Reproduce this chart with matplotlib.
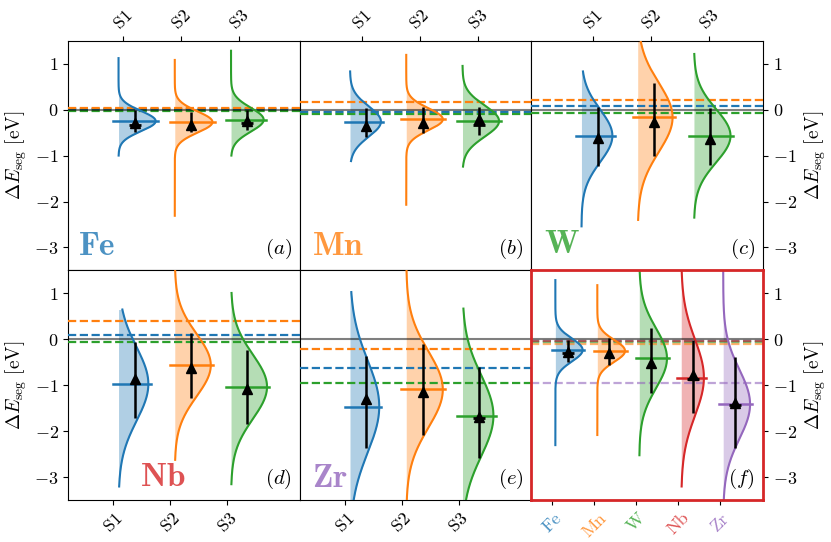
import matplotlib
matplotlib.use('Agg')
import matplotlib.pyplot as plt
import numpy as np

plt.rcParams['font.family'] = 'serif'
plt.rcParams['font.serif'] = ['cmr10']
plt.rcParams['mathtext.fontset'] = 'cm'
plt.rcParams['axes.formatter.use_mathtext'] = True
plt.rcParams['axes.unicode_minus'] = True

elements = ['Fe', 'Mn', 'W', 'Nb', 'Zr']
sites = ['S1', 'S2', 'S3']
site_colors = ['tab:blue', 'tab:orange', 'tab:green']
elem_colors = ['tab:blue', 'tab:orange', 'tab:green', 'tab:red', 'tab:purple']
panel_tags = ['a', 'b', 'c', 'd', 'e', 'f']

# gaussian fits of the histograms (panels a-e: S1..S3, panel f: Fe..Zr)
fit_mu = [[-0.25, -0.27, -0.22], [-0.26, -0.21, -0.25], [-0.57, -0.17, -0.57],
          [-0.97, -0.56, -1.03], [-1.46, -1.09, -1.66],
          [-0.23, -0.25, -0.41, -0.83, -1.41]]
fit_sigma = [[0.22, 0.23, 0.26], [0.33, 0.24, 0.34], [0.57, 0.75, 0.58],
             [0.80, 0.68, 0.70], [1.00, 0.83, 0.88],
             [0.25, 0.24, 0.65, 0.83, 0.75]]
fit_amp = [[0.66, 0.67, 0.58], [0.55, 0.65, 0.65], [0.55, 0.62, 0.65],
           [0.53, 0.64, 0.64], [0.52, 0.65, 0.55],
           [0.65, 0.66, 0.66, 0.54, 0.64]]
curve_lo = [[-1.0, -2.31, -1.0], [-1.12, -2.07, -1.24], [-2.54, -2.4, -2.35],
            [-3.2, -2.62, -3.15], [-3.6, -3.6, -3.6],
            [-2.3, -2.08, -2.52, -3.2, -3.6]]
curve_hi = [[1.12, 1.08, 1.28], [0.83, 1.19, 0.95], [0.83, 1.6, 1.21],
            [0.65, 1.6, 1.01], [1.03, 1.6, 0.67],
            [1.29, 1.18, 1.6, 1.6, 1.6]]

# black markers with error bars
tri_y = [[-0.29, -0.34, -0.24], [-0.35, -0.30, -0.21], [-0.62, -0.26, -0.64],
         [-0.87, -0.63, -1.09], [-1.30, -1.14, -1.68],
         [-0.27, -0.29, -0.52, -0.78, -1.39]]
err_lo = [[-0.49, -0.49, -0.44], [-0.59, -0.51, -0.55], [-1.22, -1.01, -1.20],
          [-1.72, -1.28, -1.84], [-2.37, -2.08, -2.59],
          [-0.49, -0.56, -1.17, -1.61, -2.37]]
err_hi = [[0.0, -0.05, 0.0], [0.03, 0.05, 0.05], [0.05, 0.57, 0.03],
          [-0.05, 0.14, -0.23], [-0.36, -0.09, -0.60],
          [-0.01, 0.04, 0.24, -0.01, -0.38]]
bar_y = [[-0.33, None, -0.29], [None, None, -0.33], [None, None, None],
         [None, None, None], [None, None, -1.72],
         [-0.30, None, None, -0.86, -1.43]]

# dashed reference levels
ref_y = [[0.01, 0.04, -0.02], [-0.06, 0.16, -0.09], [0.08, 0.21, -0.07],
         [0.09, 0.40, -0.05], [-0.63, -0.20, -0.94],
         [-0.04, -0.09, -0.05, -0.04, -0.94]]

# layout
top_ticks = [[0.08, 1.11, 2.15], [0.22, 1.24, 2.28], [0.21, 1.24, 2.27]]
bot_ticks = [-0.09, 0.92, 1.93]
name_pos = [(0.042, 0.068), (0.05, 0.068), (0.055, 0.075),
            (0.31, 0.06), (0.053, 0.057)]

fig, axes = plt.subplots(2, 3, figsize=(8.31, 5.42), dpi=100)
plt.subplots_adjust(left=0.0824, right=0.918, top=0.925, bottom=0.077,
                    wspace=0, hspace=0)

for k, ax in enumerate(axes.flat):
    row, col = divmod(k, 3)
    if k < 5:
        colors = site_colors
        ax.set_xlim(-0.89, 3.225)
    else:
        colors = elem_colors
        ax.set_xlim(-0.571, 4.945)
    ax.set_ylim(-3.5, 1.5)
    ax.axhline(0, color='k', alpha=0.5, lw=1.5, zorder=4)
    for i, c in enumerate(colors):
        ax.axhline(ref_y[k][i], color=c, ls='--', lw=1.6,
                   alpha=0.6 if k == 5 else 1.0, zorder=3)
    for i, c in enumerate(colors):
        mu, sg, amp = fit_mu[k][i], fit_sigma[k][i], fit_amp[k][i]
        y = np.linspace(curve_lo[k][i], curve_hi[k][i], 400)
        g = amp * np.exp(-(y - mu) ** 2 / (2 * sg ** 2))
        ax.fill_betweenx(y, i, i + g, color=c, alpha=0.35, lw=0, zorder=2)
        ax.plot(i + g, y, color=c, lw=1.5, zorder=5)
        ax.plot([i - 0.09, i + amp + 0.04], [mu, mu], color=c, lw=1.8, zorder=5)
        ty = tri_y[k][i]
        ax.errorbar(i + 0.29, ty, yerr=[[ty - err_lo[k][i]], [err_hi[k][i] - ty]],
                    fmt='^', color='k', ms=7, lw=1.8, zorder=6)
        if bar_y[k][i] is not None:
            ax.plot(i + 0.29, bar_y[k][i], marker='_', color='k', ms=9, mew=2,
                    zorder=6)
    ax.set_yticks([-3, -2, -1, 0, 1])
    ax.tick_params(labelsize=13)
    if col == 0:
        ax.set_ylabel(r'$\Delta E_\mathrm{seg}\ [\mathrm{eV}]$', fontsize=14)
    elif col == 1:
        ax.tick_params(axis='y', left=False, labelleft=False)
    else:
        ax.yaxis.tick_right()
        ax.yaxis.set_label_position('right')
        ax.set_ylabel(r'$\Delta E_\mathrm{seg}\ [\mathrm{eV}]$', fontsize=14)
    if row == 0:
        ax.xaxis.tick_top()
        ax.set_xticks(top_ticks[col])
        ax.set_xticklabels(sites, rotation=45, ha='center')
    elif k < 5:
        ax.set_xticks(bot_ticks)
        ax.set_xticklabels(sites, rotation=45, ha='center')
    else:
        ax.set_xticks([i - 0.07 for i in range(5)])
        ax.set_xticklabels(elements, rotation=45, ha='center')
        for lab, c in zip(ax.get_xticklabels(), elem_colors):
            lab.set_color(c)
            lab.set_alpha(0.8)
        for sp in ax.spines.values():
            sp.set_color('tab:red')
            sp.set_linewidth(2)
            sp.set_zorder(10)
    if k < 5:
        ax.text(name_pos[k][0], name_pos[k][1], r'$\mathbf{%s}$' % elements[k],
                transform=ax.transAxes, fontsize=24, color=elem_colors[k],
                alpha=0.8, va='baseline', ha='left')
    ax.text(0.965, 0.04, r'$(%s)$' % panel_tags[k], transform=ax.transAxes,
            fontsize=15, ha='right', va='bottom')

plt.savefig('out.png', dpi=100)
